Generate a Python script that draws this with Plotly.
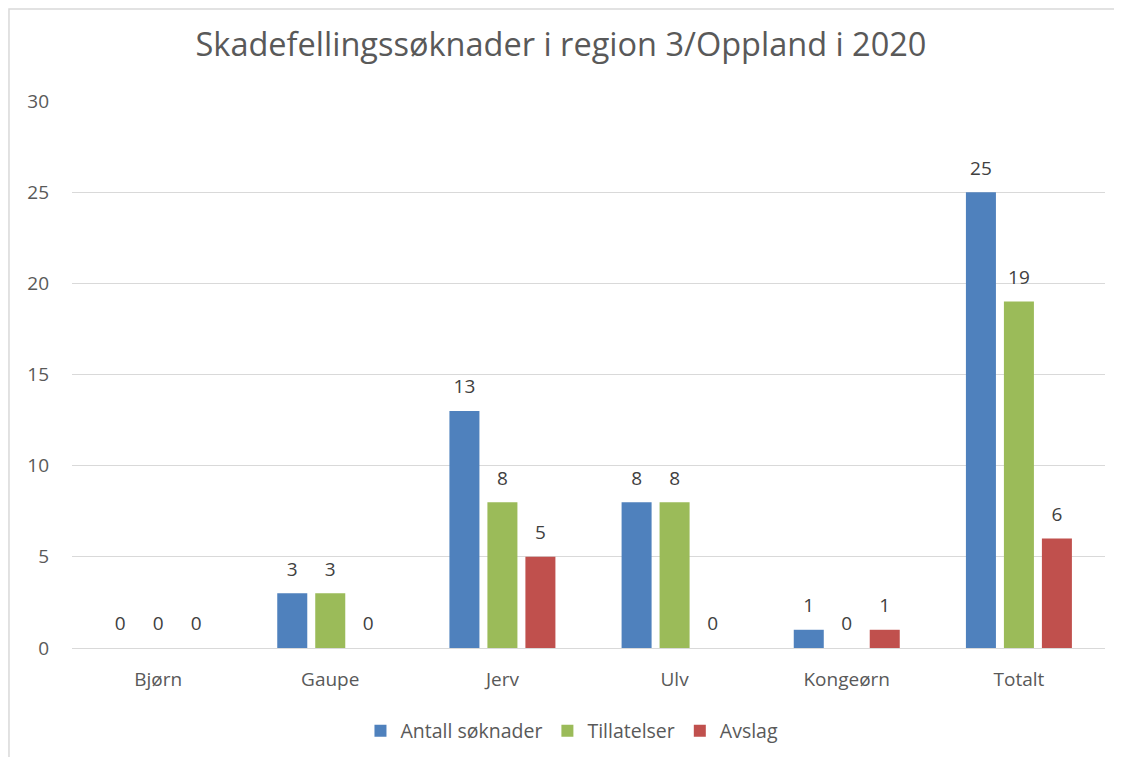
import plotly.graph_objects as go

categories = ["Bjørn", "Gaupe", "Jerv", "Ulv", "Kongeørn", "Totalt"]
antall = [0, 3, 13, 8, 1, 25]
tillatelser = [0, 3, 8, 8, 0, 19]
avslag = [0, 0, 5, 0, 1, 6]
series = [("Antall søknader", antall, "#4F81BD"),
          ("Tillatelser", tillatelser, "#9BBB59"),
          ("Avslag", avslag, "#C0504D")]
y_ticks = [0, 5, 10, 15, 20, 25, 30]

FONT = "Open Sans"
fig = go.Figure()
for i, (name, vals, col) in enumerate(series):
    fig.add_trace(go.Bar(
        x=categories, y=vals, name=name, marker_color=col,
        marker_line_width=0, offsetgroup=str(i),
    ))
for i, (name, vals, col) in enumerate(series):
    fig.add_trace(go.Scatter(
        x=categories, y=vals, mode="markers+text", offsetgroup=str(i),
        orientation="v",
        marker=dict(size=19, opacity=0), showlegend=False, hoverinfo="skip",
        text=[str(v) for v in vals], textposition="top center",
        textfont=dict(family=FONT, size=19, color="#404040"),
        cliponaxis=False,
    ))

fig.update_layout(
    width=1106, height=749,
    paper_bgcolor="white", plot_bgcolor="white",
    margin=dict(l=64, r=9, t=93, b=109, autoexpand=False),
    barmode="group", bargap=0.338, bargroupgap=0.21,
    scattermode="group",
    title=dict(text="Skadefellingssøknader i region 3/Oppland i 2020",
               x=0.5, xanchor="center", y=0.9506, yanchor="middle",
               font=dict(family=FONT, size=32.5, color="#595959")),
    font=dict(family=FONT, size=19, color="#595959"),
    legend=dict(orientation="h", x=0.484, xanchor="center", y=-0.152, yanchor="middle",
                font=dict(family=FONT, size=19.5, color="#595959"),
                itemwidth=30, traceorder="normal"),
    showlegend=True,
)
fig.update_xaxes(showgrid=False, showline=False, ticks="", ticklabelstandoff=18,
                 automargin=False,
                 tickfont=dict(family=FONT, size=19, color="#595959"))
fig.update_yaxes(range=[0, 30], tickvals=y_ticks, showgrid=True, gridcolor="#D9D9D9",
                 gridwidth=1, zeroline=True, zerolinecolor="#D9D9D9", zerolinewidth=1,
                 showline=False, ticks="", ticklabelstandoff=22, automargin=False,
                 tickfont=dict(family=FONT, size=19, color="#595959"))
fig.add_shape(type="rect", xref="paper", yref="paper",
              x0=-0.061, x1=1.2, y0=-0.4, y1=1.168,
              line=dict(color="#D9D9D9", width=1.5), layer="below")
fig.write_html("out.html")
